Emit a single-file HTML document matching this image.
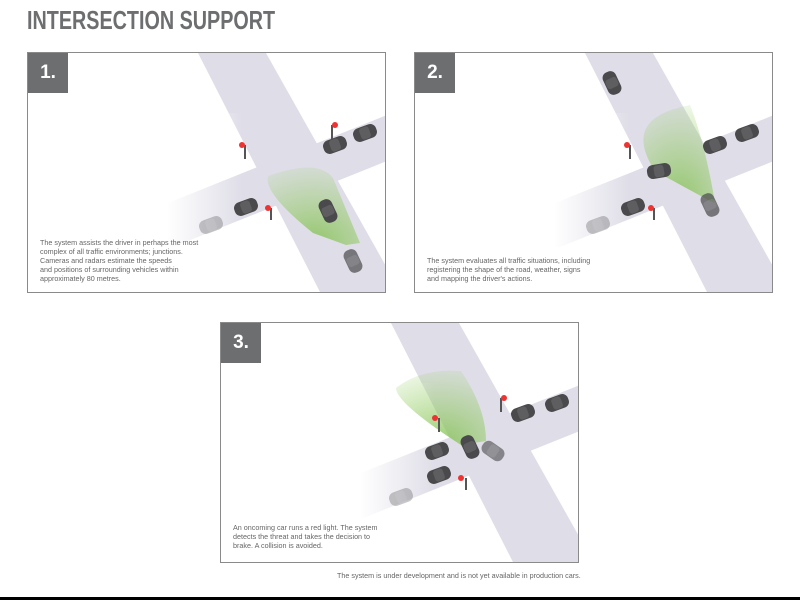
<!DOCTYPE html>
<html><head><meta charset="utf-8"><style>
body{margin:0;width:800px;height:600px;background:#fff;position:relative;overflow:hidden;font-family:"Liberation Sans",sans-serif}
.title{position:absolute;left:27px;top:5px;font:bold 26px "Liberation Sans Narrow","Liberation Sans",sans-serif;color:#6d6e70;transform:scaleX(0.76);transform-origin:left top}
.panel{position:absolute;width:357px;height:239px;border:1px solid #8a8a8a;overflow:hidden;background:#fff}
.num{position:absolute;left:0;top:0;width:40px;height:40px;background:#6d6e70;color:#fff;font:bold 19px "Liberation Sans",sans-serif;line-height:40px;text-align:center;z-index:2}
.txt{position:absolute;left:12px;font-size:7.2px;line-height:9px;color:#666;z-index:2}
svg{position:absolute;left:0;top:0}
.foot{position:absolute;left:337px;top:571px;font-size:7.2px;color:#666}
.line{position:absolute;left:0;top:597px;width:800px;height:3px;background:#000}
</style></head><body>
<div class="title">INTERSECTION SUPPORT</div>
<svg width="0" height="0" style="position:absolute">
<defs>
<linearGradient id="fade" x1="0" x2="1" y1="0" y2="0"><stop offset="0" stop-color="#fff" stop-opacity="1"/><stop offset="1" stop-color="#fff" stop-opacity="0"/></linearGradient>
<radialGradient id="cone" cx="0.5" cy="1" r="1"><stop offset="0" stop-color="#7fbf4a" stop-opacity="0.8"/><stop offset="1" stop-color="#8fcc5a" stop-opacity="0.15"/></radialGradient>
<g id="roads">
<polygon points="170,0 238,0 359,215 359,241 293,241" fill="#dfdee8"/>
<polygon points="140,150 359,62 359,108 140,196" fill="#dfdee8"/>
<rect x="139" y="60" width="75" height="150" fill="url(#fade)"/>
</g>
<g id="car"><rect x="-12" y="-7" width="24" height="14" rx="6" fill="#4a4a4c"/><rect x="-5" y="-6" width="10" height="12" rx="3" fill="#5e5e60"/></g>
</defs></svg>

<div class="panel" style="left:27px;top:52px">
<div class="num">1.</div>
<svg width="359" height="241">
<use href="#roads"/>
<path d="M318,192 L285,180 Q235,140 240,123 Q290,105 305,125 L332,190 Z" fill="url(#cone)"/>
<use href="#car" transform="translate(307,92) rotate(-20)"/>
<use href="#car" transform="translate(337,80) rotate(-20)"/>
<use href="#car" transform="translate(218,154) rotate(-20)"/>
<use href="#car" transform="translate(183,172) rotate(-20)" opacity="0.3"/>
<use href="#car" transform="translate(300,158) rotate(65)"/>
<use href="#car" transform="translate(325,208) rotate(65)" opacity="0.7"/>
<rect x="303" y="72" width="2" height="14" fill="#555"/><circle cx="307" cy="72" r="3" fill="#e33"/>
<rect x="216" y="92" width="2" height="14" fill="#555"/><circle cx="214" cy="92" r="3" fill="#e33"/>
<rect x="242" y="155" width="2" height="12" fill="#555"/><circle cx="240" cy="155" r="3" fill="#e33"/>
</svg>
<div class="txt" style="top:185px">The system assists the driver in perhaps the most<br>complex of all traffic environments; junctions.<br>Cameras and radars estimate the speeds<br>and positions of surrounding vehicles within<br>approximately 80 metres.</div>
</div>

<div class="panel" style="left:414px;top:52px">
<div class="num">2.</div>
<svg width="359" height="241">
<use href="#roads"/>
<path d="M295,148 L240,118 Q205,65 275,52 Q290,90 300,150 Z" fill="url(#cone)"/>
<use href="#car" transform="translate(197,30) rotate(65)"/>
<use href="#car" transform="translate(300,92) rotate(-20)"/>
<use href="#car" transform="translate(332,80) rotate(-20)"/>
<use href="#car" transform="translate(218,154) rotate(-20)"/>
<use href="#car" transform="translate(183,172) rotate(-20)" opacity="0.3"/>
<use href="#car" transform="translate(244,118) rotate(-10)"/>
<use href="#car" transform="translate(295,152) rotate(65)" opacity="0.7"/>
<rect x="214" y="92" width="2" height="14" fill="#555"/><circle cx="212" cy="92" r="3" fill="#e33"/>
<rect x="238" y="155" width="2" height="12" fill="#555"/><circle cx="236" cy="155" r="3" fill="#e33"/>
</svg>
<div class="txt" style="top:203px">The system evaluates all traffic situations, including<br>registering the shape of the road, weather, signs<br>and mapping the driver's actions.</div>
</div>

<div class="panel" style="left:220px;top:322px">
<div class="num">3.</div>
<svg width="359" height="241">
<use href="#roads"/>
<path d="M240,122 Q175,80 175,65 Q200,45 240,48 Q265,85 265,118 Z" fill="url(#cone)"/>
<use href="#car" transform="translate(302,90) rotate(-20)"/>
<use href="#car" transform="translate(336,80) rotate(-20)"/>
<use href="#car" transform="translate(216,128) rotate(-20)"/>
<use href="#car" transform="translate(218,152) rotate(-20)"/>
<use href="#car" transform="translate(180,174) rotate(-20)" opacity="0.3"/>
<use href="#car" transform="translate(249,124) rotate(65)"/>
<use href="#car" transform="translate(272,128) rotate(35)" opacity="0.6"/>
<rect x="279" y="75" width="2" height="14" fill="#555"/><circle cx="283" cy="75" r="3" fill="#e33"/>
<rect x="217" y="95" width="2" height="14" fill="#555"/><circle cx="214" cy="95" r="3" fill="#e33"/>
<rect x="244" y="155" width="2" height="12" fill="#555"/><circle cx="240" cy="155" r="3" fill="#e33"/>
</svg>
<div class="txt" style="top:200px">An oncoming car runs a red light. The system<br>detects the threat and takes the decision to<br>brake. A collision is avoided.</div>
</div>

<div class="foot">The system is under development and is not yet available in production cars.</div>
<div class="line"></div>
</body></html>
